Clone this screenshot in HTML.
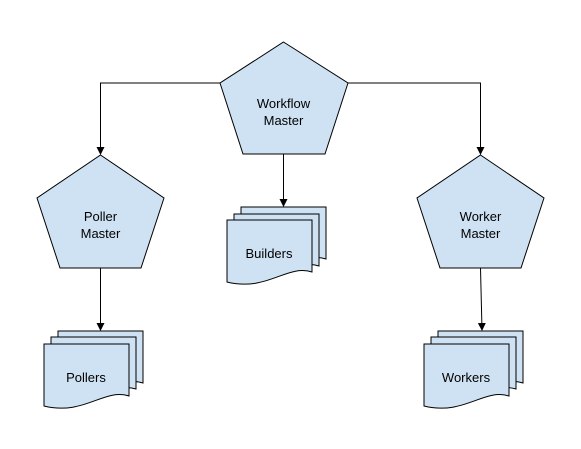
<!DOCTYPE html>
<html><head><style>body{margin:0;background:#fff}svg{display:block}</style></head><body>
<svg width="581" height="449" xmlns="http://www.w3.org/2000/svg" font-family="Liberation Sans, Arial, sans-serif" font-size="13">
<defs>
<marker id="a" markerWidth="8" markerHeight="8" refX="7" refY="4" orient="auto" markerUnits="userSpaceOnUse"><path d="M0,0 L8,4 L0,8 z" fill="#000"/></marker>
<g id="doc"><path d="M0,0 H85 V52 C60,44 40,72 0,62 Z" fill="#cfe2f3" stroke="#000" stroke-width="1"/></g>
</defs>
<g fill="#cfe2f3" stroke="#000" stroke-width="1">
<polygon points="283.5,42 348,83 325,154 243,154 220,83"/>
<polygon points="100.5,155 164,198 141,268 60,268 37,198"/>
<polygon points="480.5,155 544,198 521,268 440,268 417,198"/>
</g>
<g fill="none" stroke="#000" stroke-width="1">
<path d="M220,83 H100.5 V154" marker-end="url(#a)"/>
<path d="M348,83 H480.5 V154" marker-end="url(#a)"/>
<path d="M283.5,154 V206" marker-end="url(#a)"/>
<path d="M100.5,268 V330" marker-end="url(#a)"/>
<path d="M480.5,268 L482,330" marker-end="url(#a)"/>
</g>
<use href="#doc" x="241" y="207"/><use href="#doc" x="234" y="214"/><use href="#doc" x="227" y="220"/>
<use href="#doc" x="58" y="331"/><use href="#doc" x="51" y="337"/><use href="#doc" x="44" y="344"/>
<use href="#doc" x="438" y="331"/><use href="#doc" x="431" y="337"/><use href="#doc" x="424" y="344"/>
<g text-anchor="middle" fill="#000">
<text x="283.5" y="108">Workflow</text><text x="283.5" y="125">Master</text>
<text x="100.5" y="221">Poller</text><text x="100.5" y="238">Master</text>
<text x="480.5" y="221">Worker</text><text x="480.5" y="238">Master</text>
<text x="269" y="258">Builders</text>
<text x="86" y="382">Pollers</text>
<text x="466" y="382">Workers</text>
</g>
</svg>
</body></html>
